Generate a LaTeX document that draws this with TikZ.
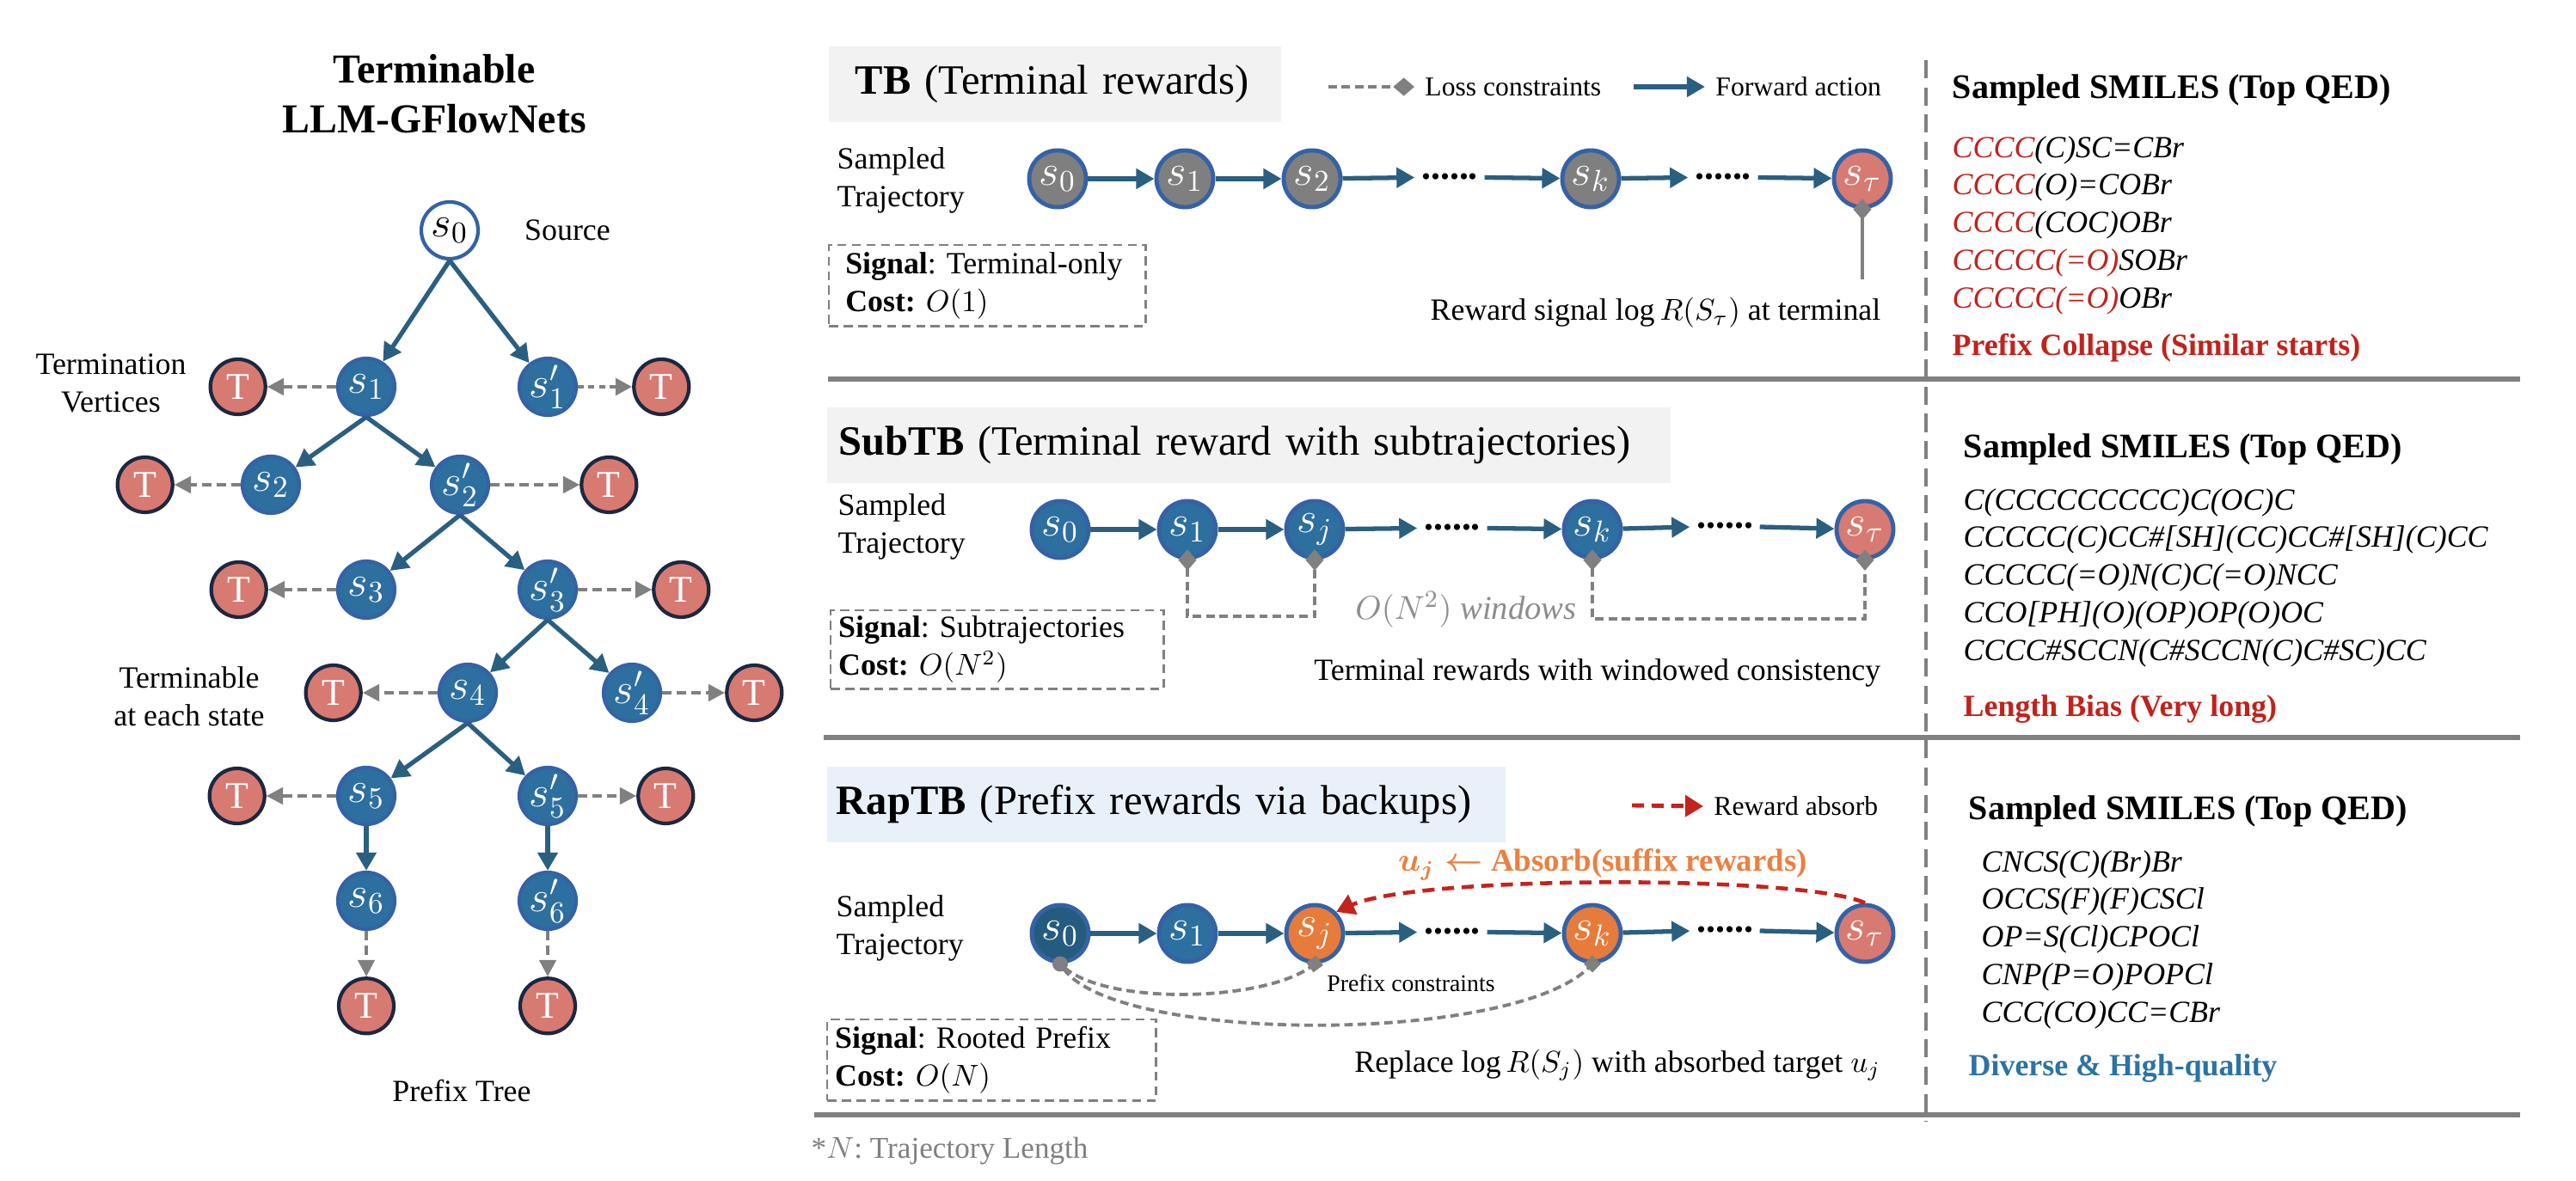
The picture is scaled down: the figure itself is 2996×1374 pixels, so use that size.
\documentclass[tikz,border=0pt]{standalone}
\usepackage{amsmath}
\usepackage{fontspec}
\setmainfont{Liberation Serif}
\usetikzlibrary{arrows.meta,positioning,calc,shapes.geometric}
\definecolor{stfill}{HTML}{2D6F9E}
\definecolor{stborder}{HTML}{3562A6}
\definecolor{stdark}{HTML}{255B7E}
\definecolor{arrowblue}{HTML}{2A5F80}
\definecolor{termfill}{HTML}{D77A72}
\definecolor{termborder}{HTML}{1C2840}
\definecolor{midgray}{HTML}{808080}
\definecolor{nodegray}{HTML}{7F7F7F}
\definecolor{orangest}{HTML}{E67B3B}
\definecolor{absorbtext}{HTML}{EB8040}
\definecolor{absorbred}{HTML}{C3241D}
\definecolor{smred}{HTML}{C0231C}
\definecolor{goodblue}{HTML}{2C73A3}
\definecolor{titlegray}{HTML}{F2F2F2}
\definecolor{titleblue}{HTML}{E8F0FA}

\begin{document}
\frenchspacing
\begin{tikzpicture}[
  x=0.01cm, y=-0.01cm,
  state/.style={circle, draw=stborder, line width=1.2pt, fill=stfill, minimum size=0.66cm, inner sep=0pt, text=white, font=\fontsize{14}{14}\selectfont},
  term/.style={circle, draw=termborder, line width=1.2pt, fill=termfill, minimum size=0.64cm, inner sep=0pt, text=white, font=\fontsize{12.5}{12.5}\selectfont},
  chainst/.style={state, line width=1.4pt},
  dotrow/.style={inner xsep=2pt, inner ysep=1pt, font=\fontsize{12.5}{12.5}\selectfont\bfseries},
  fwd/.style={-{Triangle[length=6pt,width=6.5pt]}, line width=1.5pt, arrowblue},
  stop/.style={-{Triangle[length=5.5pt,width=5.5pt]}, line width=1.1pt, midgray, dash pattern=on 3.2pt off 1.6pt},
  txt/.style={inner sep=0pt, align=left, font=\fontsize{10.2}{12.5}\selectfont},
  legtxt/.style={anchor=west, font=\fontsize{9}{11}\selectfont},
  titlebox/.style={anchor=west, minimum height=0.87cm, align=left, font=\fontsize{13.8}{16}\selectfont},
  sigbox/.style={draw=midgray, line width=0.7pt, dash pattern=on 3pt off 1.8pt, anchor=north west, align=left, inner ysep=0pt, font=\fontsize{10.2}{12.6}\selectfont},
  smhead/.style={anchor=west, inner sep=0pt, font=\fontsize{11.4}{13}\selectfont\bfseries},
  smiles/.style={anchor=west, inner sep=0pt, align=left, font=\fontsize{10.2}{12.45}\selectfont\itshape},
  smlabel/.style={anchor=west, inner sep=0pt, font=\fontsize{10.2}{12}\selectfont\bfseries},
  loss/.style={midgray, line width=0.9pt, dash pattern=on 2.8pt off 1.6pt},
  absorb/.style={-{Triangle[length=6pt,width=7pt]}, absorbred, line width=1.4pt, dash pattern=on 4pt off 2.5pt},
  divider/.style={midgray, line width=1.5pt}
]
  \path[use as bounding box, fill=white] (0,0) rectangle (2996,1374);

  % prefix tree
  \node[font=\fontsize{13.6}{16.5}\selectfont\bfseries, align=center] (maintitle) at (505,109) {Terminable\\LLM-GFlowNets};
  \node[state, fill=white, text=black] (s0) at (523,268) {$s_0$};
  \node[txt] (source) at (660,268) {Source};
  \node[state] (s1) at (426,450) {$s_1$};
  \node[state] (s1p) at (637,450) {$s_1'$};
  \node[state] (s2) at (315,564) {$s_2$};
  \node[state] (s2p) at (535,564) {$s_2'$};
  \node[state] (s3) at (426,686) {$s_3$};
  \node[state] (s3p) at (637,686) {$s_3'$};
  \node[state] (s4) at (544,806) {$s_4$};
  \node[state] (s4p) at (735,806) {$s_4'$};
  \node[state] (s5) at (426,926) {$s_5$};
  \node[state] (s5p) at (637,926) {$s_5'$};
  \node[state] (s6) at (426,1048) {$s_6$};
  \node[state] (s6p) at (637,1048) {$s_6'$};

  \node[term, left=0.80cm of s1] (t1) {T};
  \node[term, right=0.63cm of s1p] (t1p) {T};
  \node[term, left=0.77cm of s2] (t2) {T};
  \node[term, right=1.04cm of s2p] (t2p) {T};
  \node[term, left=0.79cm of s3] (t3) {T};
  \node[term, right=0.86cm of s3p] (t3p) {T};
  \node[term, left=0.87cm of s4] (t4) {T};
  \node[term, right=0.73cm of s4p] (t4p) {T};
  \node[term, left=0.81cm of s5] (t5) {T};
  \node[term, right=0.68cm of s5p] (t5p) {T};
  \node[term, below=0.53cm of s6] (t6) {T};
  \node[term, below=0.53cm of s6p] (t6p) {T};

  \node[txt, align=center] (termv) at (129,446) {Termination\\Vertices};
  \node[txt, align=center] (termeach) at (220,810) {Terminable\\at each state};
  \node[txt] (ptree) at (537,1269) {Prefix Tree};

  \draw[fwd] (s0.south) -- (s1);
  \draw[fwd] (s0.south) -- (s1p);
  \draw[fwd] (s1.south) -- (s2);
  \draw[fwd] (s1.south) -- (s2p);
  \draw[fwd] (s2p.south) -- (s3);
  \draw[fwd] (s2p.south) -- (s3p);
  \draw[fwd] (s3p.south) -- (s4);
  \draw[fwd] (s3p.south) -- (s4p);
  \draw[fwd] (s4.south) -- (s5);
  \draw[fwd] (s4.south) -- (s5p);
  \draw[fwd] (s5) -- (s6);
  \draw[fwd] (s5p) -- (s6p);

  \draw[stop] (s1) -- (t1);
  \draw[stop, dash pattern=on 2pt off 1.5pt, line width=1.4pt] (s1p) -- (t1p);
  \draw[stop] (s2) -- (t2);
  \draw[stop] (s2p) -- (t2p);
  \draw[stop] (s3) -- (t3);
  \draw[stop] (s3p) -- (t3p);
  \draw[stop] (s4) -- (t4);
  \draw[stop] (s4p) -- (t4p);
  \draw[stop] (s5) -- (t5);
  \draw[stop] (s5p) -- (t5p);
  \draw[stop] (s6) -- (t6);
  \draw[stop] (s6p) -- (t6p);

  % TB
  \node[titlebox, fill=titlegray, inner xsep=0.31cm, text width=4.64cm] (tbtitle) at (963,98) {\textbf{TB} (Terminal rewards)};
  \coordinate (lossA) at (1545,101);
  \node[legtxt] (losslbl) at (1645,101) {Loss constraints};
  \draw[loss, line width=1.3pt, -{Diamond[length=7pt,width=6pt]}] (lossA) -- (losslbl.west);
  \coordinate (fwdA) at (1900,101);
  \node[legtxt] (fwdlbl) at (1983,101) {Forward action};
  \draw[fwd] (fwdA) -- (fwdlbl.west);

  \node[txt, anchor=west] (tbsamp) at (973,210) {Sampled\\Trajectory};
  \node[chainst, fill=nodegray] (tb0) at (1230,208) {$s_0$};
  \node[chainst, fill=nodegray, right=0.77cm of tb0] (tb1) {$s_1$};
  \node[chainst, fill=nodegray, right=0.77cm of tb1] (tb2) {$s_2$};
  \node[dotrow] (tbd1) at (1686,206) {......};
  \node[chainst, fill=nodegray] (tbk) at (1850,208) {$s_k$};
  \node[dotrow] (tbd2) at (2004,206) {......};
  \node[chainst, fill=termfill] (tbt) at (2166,208) {$s_\tau$};
  \draw[fwd] (tb0) -- (tb1);
  \draw[fwd] (tb1) -- (tb2);
  \draw[fwd] (tb2) -- (tbd1);
  \draw[fwd] (tbd1) -- (tbk);
  \draw[fwd] (tbk) -- (tbd2);
  \draw[fwd] (tbd2) -- (tbt);

  \node[sigbox, inner xsep=0.19cm, text width=3.3cm, minimum height=0.94cm] (tbsig) at (963,284) {\textbf{Signal}: Terminal-only\\\textbf{Cost:} $O(1)$};
  \coordinate (tbend) at (2166,325);
  \draw[midgray, line width=1.3pt, {Diamond[length=7pt,width=6pt]}-, shorten <=-3.5pt] (tbt.south) -- (tbend);
  \node[txt, anchor=east] (tbrew) at (2188,364) {Reward signal $\log R(S_\tau)$ at terminal};

  \draw[divider] (963,441) -- (2931,441);

  % SubTB
  \node[titlebox, fill=titlegray, inner xsep=0.14cm, text width=9.53cm] (sbtitle) at (961,518) {\textbf{SubTB} (Terminal reward with subtrajectories)};
  \node[txt, anchor=west] (sbsamp) at (974,613) {Sampled\\Trajectory};
  \node[chainst] (sb0) at (1233,616) {$s_0$};
  \node[chainst, right=0.77cm of sb0] (sb1) {$s_1$};
  \node[chainst, right=0.77cm of sb1] (sbj) {$s_j$};
  \node[dotrow] (sbd1) at (1689,614) {......};
  \node[chainst] (sbk) at (1852,616) {$s_k$};
  \node[dotrow] (sbd2) at (2006,612) {......};
  \node[chainst, fill=termfill] (sbt) at (2169,616) {$s_\tau$};
  \draw[fwd] (sb0) -- (sb1);
  \draw[fwd] (sb1) -- (sbj);
  \draw[fwd] (sbj) -- (sbd1);
  \draw[fwd] (sbd1) -- (sbk);
  \draw[fwd] (sbk) -- (sbd2);
  \draw[fwd] (sbd2) -- (sbt);

  \coordinate (win1) at (1450,717);
  \coordinate (win2) at (2000,720);
  \draw[loss, {Diamond[length=7pt,width=6pt]}-{Diamond[length=7pt,width=6pt]}, shorten <=-3.5pt, shorten >=-3.5pt] (sb1.south) |- (win1) -| (sbj.south);
  \draw[loss, {Diamond[length=7pt,width=6pt]}-{Diamond[length=7pt,width=6pt]}, shorten <=-3.5pt, shorten >=-3.5pt] (sbk.south) |- (win2) -| (sbt.south);
  \node[font=\fontsize{11}{13}\selectfont, text=midgray!90] (winlbl) at (1705,709) {$O(N^2)$\ \textit{windows}};

  \node[sigbox, inner xsep=0.09cm, text width=3.69cm, minimum height=0.91cm] (sbsig) at (965,709) {\textbf{Signal}: Subtrajectories\\\textbf{Cost:} $O(N^2)$};
  \node[txt, anchor=east] (sbrew) at (2188,783) {Terminal rewards with windowed consistency};

  \draw[divider] (958,858) -- (2931,858);

  % RapTB
  \node[titlebox, fill=titleblue, inner xsep=0.11cm, text width=7.67cm] (rptitle) at (961,936) {\textbf{RapTB} (Prefix rewards via backups)};
  \coordinate (absA) at (1898,937);
  \node[legtxt] (abslbl) at (1981,938) {Reward absorb};
  \draw[absorb] (absA) -- (abslbl.west);

  \node[txt, anchor=west] (rpsamp) at (972,1080) {Sampled\\Trajectory};
  \node[chainst, fill=stdark] (rp0) at (1233,1086) {$s_0$};
  \node[chainst, right=0.77cm of rp0] (rp1) {$s_1$};
  \node[chainst, fill=orangest, right=0.77cm of rp1] (rpj) {$s_j$};
  \node[dotrow] (rpd1) at (1689,1084) {......};
  \node[chainst, fill=orangest] (rpk) at (1852,1086) {$s_k$};
  \node[dotrow] (rpd2) at (2006,1082) {......};
  \node[chainst, fill=termfill] (rpt) at (2169,1086) {$s_\tau$};
  \draw[fwd] (rp0) -- (rp1);
  \draw[fwd] (rp1) -- (rpj);
  \draw[fwd] (rpj) -- (rpd1);
  \draw[fwd] (rpd1) -- (rpk);
  \draw[fwd] (rpk) -- (rpd2);
  \draw[fwd] (rpd2) -- (rpt);

  \draw[absorb, line width=1.3pt] (rpt.north) .. controls (2100,1018) and (1650,1018) .. (rpj.north east);
  \node[font=\fontsize{10.5}{12}\selectfont\bfseries, text=absorbtext] (abstxt) at (1864,1006) {$\boldsymbol{u_j \leftarrow}$ Absorb(suffix rewards)};

  \draw[loss, line width=1.1pt, {Circle[length=5pt]}-{Square[length=4pt]}, shorten <=-2.5pt, shorten >=-2pt] (rp0.south) .. controls (1290,1170) and (1470,1165) .. (rpj.south);
  \draw[loss, line width=1.1pt, {Circle[length=5pt]}-{Square[length=4pt]}, shorten <=-2.5pt, shorten >=-2pt] (rp0.south) .. controls (1300,1215) and (1760,1215) .. (rpk.south);
  \node[font=\fontsize{7.9}{9}\selectfont] (pclbl) at (1641,1144) {Prefix constraints};

  \node[sigbox, inner xsep=0.09cm, text width=3.64cm, minimum height=0.94cm] (rpsig) at (961,1185) {\textbf{Signal}: Rooted Prefix\\\textbf{Cost:} $O(N)$};
  \node[txt, anchor=east] (rprew) at (2188,1239) {Replace $\log R(S_j)$ with absorbed target $u_j$};

  \draw[divider] (947,1297) -- (2931,1297);
  \node[txt, anchor=west, text=midgray, font=\fontsize{10}{12}\selectfont] (footnote) at (943,1339) {*$N$: Trajectory Length};

  % sampled SMILES column
  \draw[midgray, line width=1.1pt, dash pattern=on 6pt off 3pt] (2240,70) -- (2240,1305);

  \node[smhead] (smh1) at (2270,105) {Sampled SMILES (Top QED)};
  \node[smiles] (sm1) at (2270,262) {\textcolor{smred}{CCCC}(C)SC=CBr\\ \textcolor{smred}{CCCC}(O)=COBr\\ \textcolor{smred}{CCCC}(COC)OBr\\ \textcolor{smred}{CCCCC(=O)}SOBr\\ \textcolor{smred}{CCCCC(=O)}OBr};
  \node[smlabel, text=smred] (coll) at (2270,405) {Prefix Collapse (Similar starts)};

  \node[smhead] (smh2) at (2283,523) {Sampled SMILES (Top QED)};
  \node[smiles] (sm2) at (2283,672) {C(CCCCCCCCC)C(OC)C\\ CCCCC(C)CC\#[SH](CC)CC\#[SH](C)CC\\ CCCCC(=O)N(C)C(=O)NCC\\ CCO[PH](O)(OP)OP(O)OC\\ CCCC\#SCCN(C\#SCCN(C)C\#SC)CC};
  \node[smlabel, text=smred] (lbias) at (2283,825) {Length Bias (Very long)};

  \node[smhead] (smh3) at (2289,944) {Sampled SMILES (Top QED)};
  \node[smiles] (sm3) at (2304,1093) {CNCS(C)(Br)Br\\ OCCS(F)(F)CSCl\\ OP=S(Cl)CPOCl\\ CNP(P=O)POPCl\\ CCC(CO)CC=CBr};
  \node[smlabel, text=goodblue] (diverse) at (2289,1243) {Diverse \& High-quality};
\end{tikzpicture}
\end{document}
